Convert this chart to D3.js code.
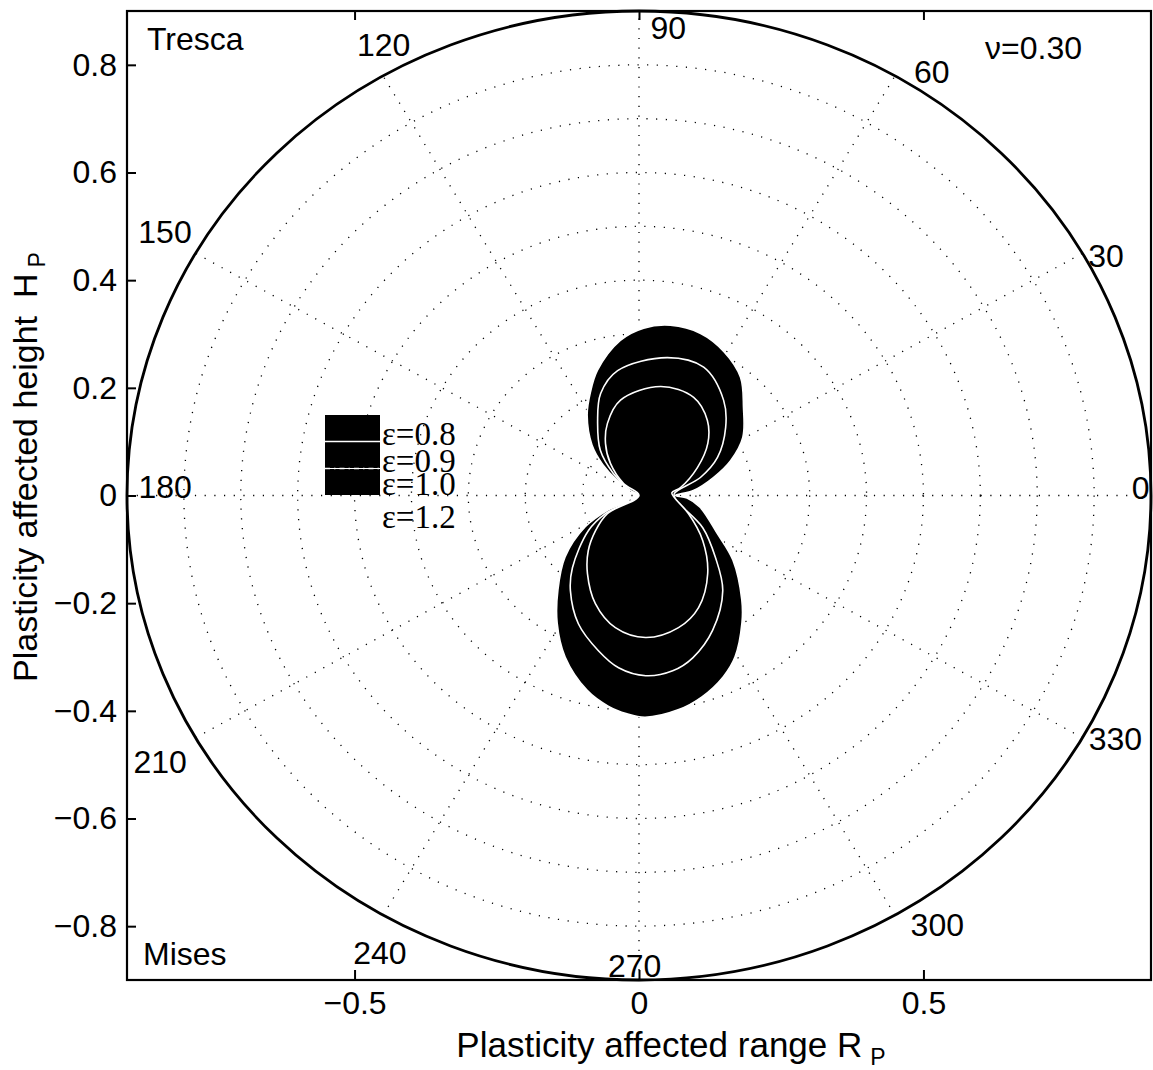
<!DOCTYPE html>
<html>
<head>
<meta charset="utf-8">
<script src="https://cdn.jsdelivr.net/npm/d3@7"></script>
<style>
  body { margin: 0; background: #fff; }
  svg { display: block; }
</style>
</head>
<body>
<svg id="chart" width="1153" height="1070"></svg>
<script>
// ---------------- data ----------------
// Plastic zone boundaries in polar form: angle (degrees) and radius.
const seriesNames = ["ε=0.8", "ε=0.9", "ε=1.0", "ε=1.2"];

const zone08Theta = [0, 5.5, 14.3, 22.0, 30.6, 41.7, 50.9, 60.7, 70.2, 80.1, 88.5, 96.5, 107.4, 114.2, 121.4, 131.4, 138.1, 143.3, 180,
                     206.3, 211.6, 221.3, 230.9, 238.7, 246.6, 255.8, 262.1, 267.0, 271.5, 279.8, 286.5, 293.7, 299.4, 307.4, 313.0, 324.0, 333.0, 348.7, 356.9];
const zone08R     = [0.064, 0.096, 0.135, 0.174, 0.212, 0.246, 0.283, 0.306, 0.320, 0.321, 0.311, 0.290, 0.244, 0.209, 0.175, 0.125, 0.085, 0.048, 0.000,
                     0.061, 0.111, 0.173, 0.226, 0.277, 0.327, 0.373, 0.395, 0.406, 0.412, 0.404, 0.390, 0.368, 0.344, 0.298, 0.265, 0.204, 0.154, 0.109, 0.0845];

const zone09Theta = [3, 17.2, 27.1, 39.7, 49.9, 64.5, 79.0, 99.2, 109.6, 117.6, 129.0, 137.7, 148, 180,
                     209.6, 216.2, 228.9, 235.7, 245.9, 256.1, 263.6, 272.0, 280.3, 287.4, 297.3, 309.8, 319.4, 331.9, 352.4];
const zone09R     = [0.062, 0.113, 0.155, 0.198, 0.231, 0.264, 0.261, 0.235, 0.201, 0.157, 0.108, 0.061, 0.018, 0.000,
                     0.068, 0.110, 0.178, 0.214, 0.261, 0.297, 0.322, 0.335, 0.331, 0.316, 0.282, 0.230, 0.177, 0.127, 0.066];

const zone10Theta = [5, 11.5, 26.8, 38.7, 49.2, 62.2, 79.4, 100.4, 112.5, 121.4, 130.1, 140.8, 180,
                     211.2, 220.4, 229.0, 238.0, 249.1, 260.4, 272.5, 285.8, 296.7, 309.7, 323.2, 338.9, 356.7];
const zone10R     = [0.058, 0.0745, 0.115, 0.155, 0.184, 0.206, 0.206, 0.180, 0.145, 0.113, 0.078, 0.035, 0.000,
                     0.065, 0.100, 0.136, 0.171, 0.215, 0.249, 0.264, 0.255, 0.233, 0.189, 0.140, 0.093, 0.062];

// Polar grid
const rMax = 0.9;
const ringRadii = [0.1, 0.2, 0.3, 0.4, 0.5, 0.6, 0.7, 0.8];
const spokeAngles = [0, 30, 60, 90, 120, 150];
const angleLabels = [0, 30, 60, 90, 120, 150, 180, 210, 240, 270, 300, 330];

// Cartesian axes
const xTicks = [-0.5, 0, 0.5];
const xTickLabels = ["−0.5", "0", "0.5"];
const yTicks = [0.8, 0.6, 0.4, 0.2, 0, -0.2, -0.4, -0.6, -0.8];
const yTickLabels = ["0.8", "0.6", "0.4", "0.2", "0", "−0.2", "−0.4", "−0.6", "−0.8"];

// ---------------- drawing ----------------
const svg = d3.select("#chart");
const frameLeft = 127, frameRight = 1151, frameTop = 11, frameBottom = 980;
const x = d3.scaleLinear().domain([-rMax, rMax]).range([frameLeft, frameRight]);
const y = d3.scaleLinear().domain([-rMax, rMax]).range([frameBottom, frameTop]);
const rad = d => d * Math.PI / 180;
const px = (t, r) => x(r * Math.cos(rad(t)));
const py = (t, r) => y(r * Math.sin(rad(t)));
const cx = x(0), cy = y(0);
const kx = x(1) - x(0), ky = y(0) - y(1);

const SANS = "'Liberation Sans', Arial, Helvetica, sans-serif";
const SERIF = "'Liberation Serif', 'Times New Roman', serif";
const DOTS = "1.2 8.5";

// dotted rings
svg.append("g").selectAll("ellipse").data(ringRadii).join("ellipse")
  .attr("cx", cx).attr("cy", cy)
  .attr("rx", d => d * kx).attr("ry", d => d * ky)
  .attr("fill", "none").attr("stroke", "#000")
  .attr("stroke-width", 1.3).attr("stroke-dasharray", DOTS);

// dotted spokes
svg.append("g").selectAll("line").data(spokeAngles).join("line")
  .attr("x1", d => px(d, -rMax)).attr("y1", d => py(d, -rMax))
  .attr("x2", d => px(d, rMax)).attr("y2", d => py(d, rMax))
  .attr("stroke", "#000").attr("stroke-width", 1.3).attr("stroke-dasharray", DOTS);

// outer boundary circle
svg.append("ellipse")
  .attr("cx", cx).attr("cy", cy).attr("rx", rMax * kx).attr("ry", rMax * ky)
  .attr("fill", "none").attr("stroke", "#000").attr("stroke-width", 2.8);

// plastic zones, largest first: black fill, white edge
const zones = [
  { name: seriesNames[0], theta: zone08Theta, r: zone08R },
  { name: seriesNames[1], theta: zone09Theta, r: zone09R },
  { name: seriesNames[2], theta: zone10Theta, r: zone10R }
];
const zoneLine = d3.line()
  .x(d => px(d[0], d[1])).y(d => py(d[0], d[1]))
  .curve(d3.curveCatmullRomClosed.alpha(0.5));
svg.append("g").selectAll("path").data(zones).join("path")
  .attr("d", z => zoneLine(z.theta.map((t, i) => [t, z.r[i]])))
  .attr("fill", "#000").attr("stroke", "#fff").attr("stroke-width", 1.6);

// angle labels around the rim: [angle, radius] of each label centre
const labelSpot = {
  0: [0.9, 0.882], 30: [28.5, 0.934], 60: [56.8, 0.940], 90: [86.6, 0.870],
  120: [118.2, 0.950], 150: [149.6, 0.966], 180: [178.9, 0.833], 210: [210.5, 0.977],
  240: [241.8, 0.964], 270: [269.5, 0.874], 300: [303.3, 0.955], 330: [331.6, 0.952]
};
svg.append("g").selectAll("text").data(angleLabels).join("text")
  .attr("x", d => px(labelSpot[d][0], labelSpot[d][1]))
  .attr("y", d => py(labelSpot[d][0], labelSpot[d][1]))
  .attr("text-anchor", "middle").attr("dominant-baseline", "central")
  .attr("font-family", SANS).attr("font-size", 32).attr("fill", "#000")
  .text(d => d);

// axes frame
svg.append("rect")
  .attr("x", frameLeft).attr("y", frameTop)
  .attr("width", frameRight - frameLeft).attr("height", frameBottom - frameTop)
  .attr("fill", "none").attr("stroke", "#000").attr("stroke-width", 2.2);

const yAxis = d3.axisLeft(y).tickValues(yTicks)
  .tickFormat((d, i) => yTickLabels[i]).tickSizeInner(-9).tickSizeOuter(0).tickPadding(10);
const gy = svg.append("g").attr("transform", `translate(${frameLeft},0)`).call(yAxis);
const xAxis = d3.axisBottom(x).tickValues(xTicks)
  .tickFormat((d, i) => xTickLabels[i]).tickSizeInner(-10).tickSizeOuter(0).tickPadding(11);
const gx = svg.append("g").attr("transform", `translate(0,${frameBottom})`).call(xAxis);
const xTopAxis = d3.axisTop(x).tickValues(xTicks).tickFormat("").tickSizeInner(-9).tickSizeOuter(0);
const gxt = svg.append("g").attr("transform", `translate(0,${frameTop})`).call(xTopAxis);
[gx, gy, gxt].forEach(g => {
  g.select(".domain").remove();
  g.selectAll(".tick line").attr("stroke", "#000").attr("stroke-width", 2);
  g.selectAll(".tick text").attr("font-family", SANS).attr("font-size", 32).attr("fill", "#000");
});

// axis titles
const xTitle = svg.append("text")
  .attr("x", 671).attr("y", 1057).attr("text-anchor", "middle")
  .attr("font-family", SANS).attr("font-size", 35).attr("fill", "#000");
xTitle.append("tspan").text("Plasticity affected range R");
xTitle.append("tspan").attr("dx", 8).attr("dy", 8).attr("font-size", 23).text("P");

const yTitle = svg.append("text")
  .attr("transform", "translate(37,467) rotate(-90)").attr("text-anchor", "middle")
  .attr("font-family", SANS).attr("font-size", 34).attr("fill", "#000");
yTitle.append("tspan").text("Plasticity affected height");
yTitle.append("tspan").attr("dx", 18).text("H");
yTitle.append("tspan").attr("dx", 6).attr("dy", 8).attr("font-size", 23).text("P");

// annotations
svg.append("text").attr("x", 147).attr("y", 50)
  .attr("font-family", SANS).attr("font-size", 32).text("Tresca");
svg.append("text").attr("x", 143).attr("y", 965)
  .attr("font-family", SANS).attr("font-size", 32).text("Mises");
svg.append("text").attr("x", 985).attr("y", 59)
  .attr("font-family", SANS).attr("font-size", 32).text("ν=0.30");

// legend: black swatches separated by white edge lines
const legend = svg.append("g");
const swatchX = 325, swatchW = 55, swatchTops = [415, 442, 469], swatchH = 26;
legend.selectAll("rect").data(zones).join("rect")
  .attr("x", swatchX).attr("y", (d, i) => swatchTops[i])
  .attr("width", swatchW).attr("height", swatchH)
  .attr("fill", "#000");
legend.selectAll("line").data(zones.slice(1)).join("line")
  .attr("x1", swatchX).attr("x2", swatchX + swatchW)
  .attr("y1", (d, i) => swatchTops[i + 1] - 0.5).attr("y2", (d, i) => swatchTops[i + 1] - 0.5)
  .attr("stroke", "#fff").attr("stroke-width", 1.6)
  .attr("stroke-dasharray", (d, i) => i === 1 ? "5 4 1.5 4" : null);
const legendBaselines = [445, 472, 495, 528];
legend.selectAll("text").data(seriesNames).join("text")
  .attr("x", 382).attr("y", (d, i) => legendBaselines[i])
  .attr("font-family", SERIF).attr("font-size", 33).attr("fill", "#000")
  .text(d => d);
</script>
</body>
</html>
